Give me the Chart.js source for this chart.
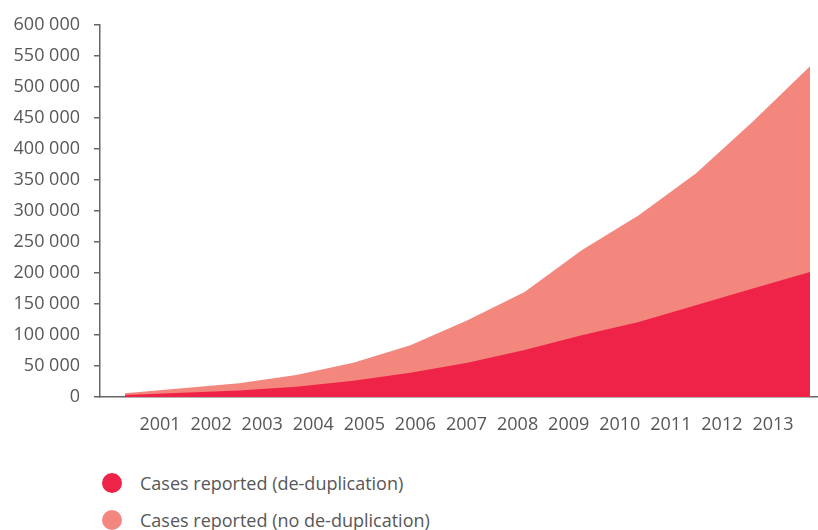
<!DOCTYPE html>
<html>
<head>
<meta charset="utf-8">
<script src="https://cdn.jsdelivr.net/npm/chart.js@4/dist/chart.umd.min.js"></script>
<style>
  body { margin: 0; background: #fff; font-family: "Open Sans", sans-serif; }
  #wrap { position: relative; width: 818px; height: 450px; }
  #legend { margin: 14px 0 0 102px; }
  .item { display: flex; align-items: center; height: 37px; font-size: 18px; color: #575757; }
  .dot { width: 20px; height: 20px; border-radius: 50%; margin-right: 18px; }
</style>
</head>
<body>
<div id="wrap"><canvas id="myChart"></canvas></div>
<div id="legend"></div>
<script>
const years = [2001, 2002, 2003, 2004, 2005, 2006, 2007, 2008, 2009, 2010, 2011, 2012, 2013]
const dedup = [3200, 7000, 10500, 16500, 26300, 39100, 55200, 75600, 99700, 121000, 148000, 175000, 201600]
const noDedup = [6000, 14000, 22000, 35400, 55200, 83600, 123900, 169400, 236500, 292800, 360300, 444000, 533000]
const seriesNames = ['Cases reported (de-duplication)', 'Cases reported (no de-duplication)']
const colors = ['rgb(238, 35, 71)', 'rgb(243, 135, 125)']

const initChart = () => {
  const ctx = document.getElementById('myChart').getContext('2d')
  const gray = '#666'
  const font = { family: '"Open Sans", sans-serif', size: 18 }

  const myChart = new Chart(ctx, {
    type: 'line',
    data: {
      datasets: [
        {
          label: seriesNames[0],
          data: years.map((y, i) => ({ x: y, y: dedup[i] })),
          backgroundColor: colors[0],
          borderWidth: 0,
          pointRadius: 0,
          fill: 'origin',
          tension: 0
        },
        {
          label: seriesNames[1],
          data: years.map((y, i) => ({ x: y, y: noDedup[i] })),
          backgroundColor: colors[1],
          borderWidth: 0,
          pointRadius: 0,
          fill: 'origin',
          tension: 0
        }
      ]
    },
    options: {
      responsive: true,
      maintainAspectRatio: false,
      animation: false,
      layout: { padding: { top: 14, right: 0, left: 0, bottom: 0 } },
      plugins: { legend: { display: false }, tooltip: { enabled: false } },
      scales: {
        x: {
          type: 'linear',
          display: false,
          min: 2000.562,
          max: 2013.14
        },
        years: {
          type: 'linear',
          position: 'bottom',
          min: 1999.825,
          max: 2013.881,
          afterBuildTicks: (scale) => { scale.ticks = years.map(v => ({ value: v })) },
          afterFit: (scale) => { scale.height = 53 },
          grid: { display: false, drawTicks: false },
          border: { display: true, color: gray, width: 1.5 },
          ticks: {
            color: '#575757',
            font: font,
            padding: 17,
            autoSkip: false,
            maxRotation: 0,
            callback: (v) => String(v)
          }
        },
        y: {
          min: 0,
          max: 600000,
          afterFit: (scale) => { scale.width = 100 },
          grid: { drawOnChartArea: false, tickLength: 6, color: gray, lineWidth: 1.5 },
          border: { color: gray, width: 1.5 },
          ticks: {
            stepSize: 50000,
            color: '#575757',
            font: font,
            padding: 14,
            callback: (v) => v === 0 ? '0' : String(v).replace(/\B(?=(\d{3})+(?!\d))/g, ' ')
          }
        }
      }
    }
  })

  const legend = document.getElementById('legend')
  myChart.data.datasets.forEach((ds) => {
    const row = document.createElement('div')
    row.className = 'item'
    const dot = document.createElement('span')
    dot.className = 'dot'
    dot.style.background = ds.backgroundColor
    row.appendChild(dot)
    row.appendChild(document.createTextNode(ds.label))
    legend.appendChild(row)
  })
}

initChart()
</script>
</body>
</html>
